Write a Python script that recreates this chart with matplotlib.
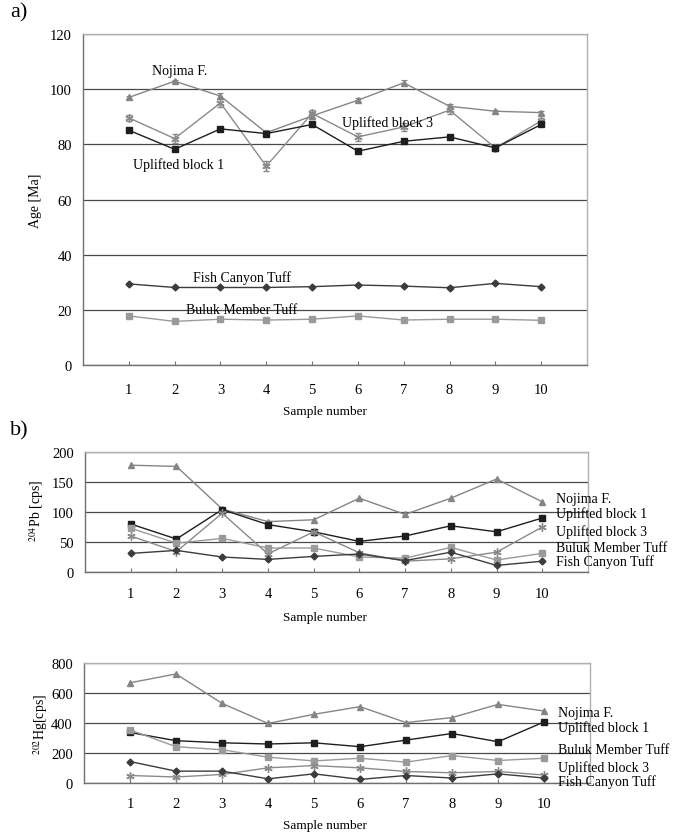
import numpy as np
import matplotlib
matplotlib.use("Agg")
import matplotlib.pyplot as plt

plt.rcParams['font.family'] = ['Liberation Serif', 'DejaVu Serif']
plt.rcParams['mathtext.fontset'] = 'stix'

samples = np.arange(1, 11)

# a) ages [Ma]
age_nojima = [97.0, 102.9, 97.5, 84.2, 90.3, 96.0, 102.3, 93.8, 92.0, 91.5]
age_nojima_err = [0.6, 0.6, 1.2, 1.0, 1.0, 0.8, 1.1, 0.8, 0.5, 0.6]
age_up3 = [89.6, 82.1, 95.0, 72.1, 91.2, 82.7, 86.3, 92.4, 78.7, 88.5]
age_up3_err = [1.2, 1.5, 1.5, 1.9, 1.4, 1.4, 1.6, 1.4, 1.0, 1.2]
age_up1 = [85.1, 78.2, 85.6, 83.9, 87.2, 77.5, 81.1, 82.7, 78.7, 87.2]
age_up1_err = [0.5, 0.5, 0.5, 0.6, 0.5, 0.5, 0.5, 0.5, 0.5, 0.5]
age_fish = [29.4, 28.1, 28.1, 28.1, 28.4, 29.0, 28.6, 28.0, 29.6, 28.4]
age_fish_err = [0.3, 0.3, 0.3, 0.3, 0.3, 0.3, 0.3, 0.6, 0.3, 0.3]
age_buluk = [17.8, 15.8, 16.6, 16.3, 16.6, 17.8, 16.3, 16.6, 16.6, 16.2]
age_buluk_err = [0.5, 0.3, 0.3, 0.3, 0.3, 0.4, 0.3, 0.3, 0.3, 0.3]

# b) 204Pb [cps]
pb_nojima = [178, 176, 105, 84, 87, 123, 96, 123, 155, 117]
pb_up1 = [80, 55, 104, 79, 67, 51, 60, 77, 67, 90]
pb_up3 = [60, 34, 98, 30, 67, 32, 18, 22, 33, 75]
pb_buluk = [73, 48, 56, 40, 40, 25, 23, 41, 20, 31]
pb_fish = [31, 36, 25, 21, 26, 30, 19, 33, 11, 18]

# 202Hg [cps]
hg_nojima = [668, 727, 531, 397, 458, 509, 403, 436, 524, 480]
hg_up1 = [337, 282, 268, 260, 268, 242, 286, 330, 275, 407]
hg_buluk = [354, 242, 222, 172, 147, 165, 139, 183, 150, 165]
hg_up3 = [50, 40, 57, 101, 116, 101, 77, 68, 77, 53]
hg_fish = [143, 79, 79, 28, 61, 24, 50, 33, 61, 33]

c_nojima = '#858585'
c_up1 = '#1e1e1e'
c_up3 = '#8a8a8a'
c_buluk = '#9a9a9a'
c_fish = '#3c3c3c'
star = (6, 2, 0)

W, H = 682, 837
fig = plt.figure(figsize=(W / 100, H / 100), dpi=100)


def box(l, r, t, b):
    return [l / W, 1 - b / H, (r - l) / W, (b - t) / H]


def style(ax, ymax, ystep, tickpad):
    ax.set_xlim(0, 11)
    ax.set_ylim(0, ymax)
    ax.set_xticks(samples)
    ax.set_yticks(np.arange(0, ymax + 1, ystep))
    ax.tick_params(axis='x', direction='in', length=3, width=0.8,
                   color='#777777', labelsize=10.5, pad=tickpad)
    ax.tick_params(axis='y', length=0, labelsize=10.5, pad=8)
    ax.grid(axis='y', color='#4a4a4a', lw=0.9)
    ax.set_axisbelow(True)
    for s in ['left', 'bottom']:
        ax.spines[s].set_color('#707070')
        ax.spines[s].set_linewidth(1.0)
    for s in ['top', 'right']:
        ax.spines[s].set_color('#b0b0b0')
        ax.spines[s].set_linewidth(1.0)


# ---- a)
ax1 = fig.add_axes(box(83, 587, 35, 366))
style(ax1, 120, 20, 13)
kw = dict(lw=1.0, capsize=2.5, elinewidth=0.8, capthick=0.8)
ax1.errorbar(samples, age_nojima, yerr=age_nojima_err, color=c_nojima, marker='^', ms=4, **kw)
ax1.errorbar(samples, age_up3, yerr=age_up3_err, color=c_up3, marker=star, ms=6, mew=1, **kw)
ax1.errorbar(samples, age_up1, yerr=age_up1_err, color=c_up1, marker='s', ms=4, **kw)
ax1.errorbar(samples, age_fish, yerr=age_fish_err, color=c_fish, marker='D', ms=3.5, **kw)
ax1.errorbar(samples, age_buluk, yerr=age_buluk_err, color=c_buluk, marker='s', ms=4, **kw)
fig.text(35 / W, 1 - 201 / H, 'Age [Ma]', rotation=90, ha='center', va='center', fontsize=10)
ax1.text(1.5, 105.5, 'Nojima F.', fontsize=10)
ax1.text(5.65, 86.5, 'Uplifted block 3', fontsize=10)
ax1.text(1.1, 71.5, 'Uplifted block 1', fontsize=10)
ax1.text(2.4, 30.5, 'Fish Canyon Tuff', fontsize=10)
ax1.text(2.25, 18.8, 'Buluk Member Tuff', fontsize=10)
fig.text(325 / W, 1 - 412 / H, 'Sample number', ha='center', va='center', fontsize=9.5)
fig.text(10 / W, 1 - 13 / H, 'a)', fontsize=16, va='center')

# ---- b) Pb
ax2 = fig.add_axes(box(85, 588, 453, 573))
style(ax2, 200, 50, 11)
kw2 = dict(lw=1.0)
ax2.plot(samples, pb_nojima, color=c_nojima, marker='^', ms=4.5, **kw2)
ax2.plot(samples, pb_up1, color=c_up1, marker='s', ms=4.5, **kw2)
ax2.plot(samples, pb_up3, color=c_up3, marker=star, ms=6, mew=1, **kw2)
ax2.plot(samples, pb_buluk, color=c_buluk, marker='s', ms=4, **kw2)
ax2.plot(samples, pb_fish, color=c_fish, marker='D', ms=3.5, **kw2)
fig.text(37 / W, 1 - 511 / H, '$^{204}$Pb [cps]', rotation=90, ha='center', va='center', fontsize=10)
for lab, yy in [('Nojima F.', 500), ('Uplifted block 1', 514),
                ('Uplifted block 3', 532), ('Buluk Member Tuff', 549),
                ('Fish Canyon Tuff', 562)]:
    fig.text(556 / W, 1 - yy / H, lab, fontsize=10, va='center')
fig.text(325 / W, 1 - 618 / H, 'Sample number', ha='center', va='center', fontsize=9.5)
fig.text(10 / W, 1 - 431 / H, 'b)', fontsize=16, va='center')

# ---- Hg
ax3 = fig.add_axes(box(84, 590, 664, 784))
style(ax3, 800, 200, 10)
ax3.plot(samples, hg_nojima, color=c_nojima, marker='^', ms=4.5, **kw2)
ax3.plot(samples, hg_up1, color=c_up1, marker='s', ms=4.5, **kw2)
ax3.plot(samples, hg_buluk, color=c_buluk, marker='s', ms=4, **kw2)
ax3.plot(samples, hg_up3, color=c_up3, marker=star, ms=6, mew=1, **kw2)
ax3.plot(samples, hg_fish, color=c_fish, marker='D', ms=3.5, **kw2)
fig.text(41 / W, 1 - 724 / H, '$^{202}$Hg[cps]', rotation=90, ha='center', va='center', fontsize=10)
for lab, yy in [('Nojima F.', 714), ('Uplifted block 1', 728),
                ('Buluk Member Tuff', 751), ('Uplifted block 3', 768),
                ('Fish Canyon Tuff', 782)]:
    fig.text(558 / W, 1 - yy / H, lab, fontsize=10, va='center')
fig.text(325 / W, 1 - 826 / H, 'Sample number', ha='center', va='center', fontsize=9.5)

fig.savefig('out.png', dpi=100)
